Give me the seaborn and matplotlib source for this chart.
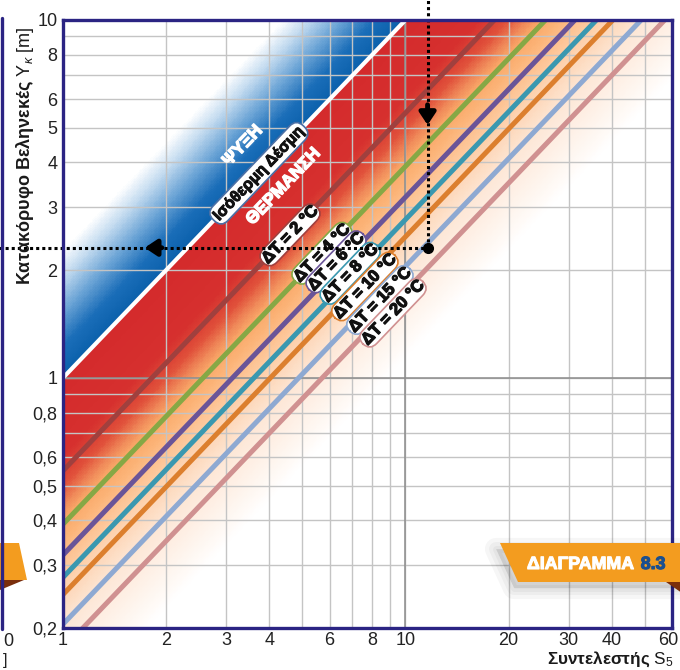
import numpy as np
import pandas as pd
import seaborn as sns
import matplotlib.pyplot as plt
import matplotlib.patheffects as pe
import matplotlib.transforms as mtransforms
from matplotlib.colors import LinearSegmentedColormap, Normalize
from matplotlib.patches import Polygon
from matplotlib.lines import Line2D
from matplotlib.ticker import NullFormatter

sns.set_style("white")
plt.rcParams['font.family'] = ['Liberation Sans', 'DejaVu Sans']
plt.rcParams['mathtext.fontset'] = 'custom'
plt.rcParams['mathtext.rm'] = 'Liberation Sans'
plt.rcParams['mathtext.it'] = 'Liberation Sans:italic'

# data: each ΔT line is Y = ratio * S (slope 1 in log-log)
dt_names = ["ΔT = 2 °C", "ΔT = 4 °C", "ΔT = 6 °C", "ΔT = 8 °C",
            "ΔT = 10 °C", "ΔT = 15 °C", "ΔT = 20 °C"]
dt_ratio = [0.55, 0.39, 0.32, 0.277, 0.248, 0.205, 0.175]
dt_colors = ["#a0403e", "#86a845", "#6a5498", "#3a98b0",
             "#dc7f2e", "#8ea9d2", "#d09191"]
iso_s = [1, 10]
iso_y = [1, 10]
s_ends = [1, 60]

x_ticks = [1, 2, 3, 4, 6, 8, 10, 20, 30, 40, 60]
x_minor = [5, 7, 9, 50]
y_ticks = [0.2, 0.3, 0.4, 0.5, 0.6, 0.8, 1, 2, 3, 4, 5, 6, 8, 10]
y_tick_labels = ["0,2", "0,3", "0,4", "0,5", "0,6", "0,8", "1",
                 "2", "3", "4", "5", "6", "8", "10"]
y_minor = [0.7, 0.9, 7, 9]

# worked example point
s_read = 11.6
y_read = 2.31

# where the ΔT name tags sit (S, Y)
dt_label_s = [4.60, 5.70, 6.27, 6.89, 7.61, 8.42, 9.19]
dt_label_y = [2.51, 2.23, 2.11, 1.96, 1.80, 1.65, 1.52]

W, H = 680, 670
fig = plt.figure(figsize=(6.8, 6.7), dpi=100)
ax = fig.add_axes([63 / W, 1 - 628 / H, (672 - 63) / W, (628 - 20) / H])
ax.set_xscale('log')
ax.set_yscale('log')
ax.set_xlim(1, 60)
ax.set_ylim(0.2, 10)


def px(x, y):
    return (x / W, 1 - y / H)


def heavy(col, w=0.9):
    return [pe.withStroke(linewidth=w, foreground=col)]


# background gradient, coloured by distance from the isothermal line
# (position = (log10(Y/S) + 1) / 1.6)
cmap = LinearSegmentedColormap.from_list("heat", [
    (0.0, "#ffffff"),
    (0.03, "#ffffff"),
    (0.19, "#fde6d5"),
    (0.25, "#fdd5b5"),
    (0.30, "#fdc495"),
    (0.3375, "#fcb57a"),
    (0.375, "#f9a868"),
    (0.40, "#f08a5a"),
    (0.4375, "#e0503a"),
    (0.49, "#d6302e"),
    (0.625, "#d42a2c"),
    (0.6251, "#0a5fab"),
    (0.68, "#1a6db8"),
    (0.74, "#6aa3d5"),
    (0.80, "#c2daef"),
    (0.85, "#ffffff"),
    (1.0, "#ffffff"),
])
gx = np.logspace(0, np.log10(60), 500)
gy = np.logspace(np.log10(0.2), 1, 500)
GX, GY = np.meshgrid(gx, gy)
ax.pcolormesh(GX, GY, np.log10(GY / GX), cmap=cmap, norm=Normalize(-1.0, 0.6),
              shading='auto', rasterized=True, zorder=0)

# grid
ax.set_axisbelow(True)
ax.set_xticks(x_ticks)
ax.set_xticklabels([str(v) for v in x_ticks])
ax.set_xticks(x_minor, minor=True)
ax.set_yticks(y_ticks)
ax.set_yticklabels(y_tick_labels)
ax.set_yticks(y_minor, minor=True)
ax.xaxis.set_minor_formatter(NullFormatter())
ax.yaxis.set_minor_formatter(NullFormatter())
ax.grid(which='both', color='#c4c4c4', linewidth=1.0)
ax.axhline(1, color='#8c8c8c', linewidth=1.1, zorder=0.6)
ax.axvline(10, color='#8c8c8c', linewidth=1.1, zorder=0.6)
ax.tick_params(which='both', length=0, labelsize=13, colors='#222222')
ax.tick_params(axis='x', pad=3)
ax.tick_params(axis='y', pad=4)
for sp in ax.spines.values():
    sp.set_color('#2b2483')
    sp.set_linewidth(2.4)
    sp.set_zorder(9)
# keep the last x label inside the picture
last = ax.get_xticklabels()[-1]
last.set_transform(last.get_transform() +
                   mtransforms.ScaledTranslation(-4 / 100, 0, fig.dpi_scale_trans))

# ΔT lines
rows = []
for name, r in zip(dt_names, dt_ratio):
    for s in s_ends:
        rows.append({"S": s, "Y": r * s, "curve": name})
lines = pd.DataFrame(rows)
sns.lineplot(data=lines, x="S", y="Y", hue="curve",
             palette=dict(zip(dt_names, dt_colors)), linewidth=3.6,
             legend=False, ax=ax, zorder=3)
sns.lineplot(x=iso_s, y=iso_y, color='white', linewidth=3.0, ax=ax, zorder=4)
ax.set_xlabel("")
ax.set_ylabel("")

# angle of the lines on screen
p0 = ax.transData.transform((1, 1))
p1 = ax.transData.transform((10, 10))
angle = np.degrees(np.arctan2(p1[1] - p0[1], p1[0] - p0[0]))

for i, (name, s, y, col) in enumerate(zip(dt_names, dt_label_s, dt_label_y, dt_colors)):
    ax.text(s, y, name, rotation=angle, rotation_mode='anchor',
            ha='center', va='center', fontsize=12, fontweight='bold',
            color='#111111', zorder=6 + 0.1 * i, path_effects=heavy('#111111'),
            bbox=dict(boxstyle='round,pad=0.12,rounding_size=0.6',
                      fc='white', ec=col, lw=1.2))

ax.text(3.73, 3.73, "Ισόθερμη Δέσμη", rotation=angle, rotation_mode='anchor',
        ha='center', va='center', fontsize=11.5, fontweight='bold',
        color='#111111', zorder=6, path_effects=heavy('#111111', 0.7),
        bbox=dict(boxstyle='round,pad=0.18,rounding_size=0.6',
                  fc='white', ec='#4a6fa5', lw=1.2))
ax.text(3.35, 4.45, "ΨΥΞΗ", rotation=angle, rotation_mode='anchor',
        ha='center', va='center', fontsize=12.5, fontweight='bold',
        color='white', zorder=6, path_effects=heavy('white', 1.0))
ax.text(4.4, 3.42, "ΘΕΡΜΑΝΣΗ", rotation=angle, rotation_mode='anchor',
        ha='center', va='center', fontsize=12.5, fontweight='bold',
        color='white', zorder=6, path_effects=heavy('white', 1.0))

# worked example: dotted guides, arrows and point
ax.plot([0.64, s_read], [y_read, y_read], color='black', lw=2.2,
        ls=(0, (1, 1)), clip_on=False, zorder=7)
ax.plot([s_read, s_read], [y_read, 11.6], color='black', lw=2.2,
        ls=(0, (1, 1)), clip_on=False, zorder=7)
ax.plot([s_read], [y_read], 'o', color='black', markersize=7, zorder=8)
ax.annotate('', xy=(1.7, y_read), xytext=(1.98, y_read), zorder=8,
            arrowprops=dict(arrowstyle='-|>,head_length=0.6,head_width=0.4',
                            color='black', lw=3.5, mutation_scale=12))
ax.annotate('', xy=(s_read, 5.0), xytext=(s_read, 5.9), zorder=8,
            arrowprops=dict(arrowstyle='-|>,head_length=0.6,head_width=0.4',
                            color='black', lw=3.5, mutation_scale=12))

# axis titles
fig.text(25 / W, 1 - 285 / H,
         r"Κατακόρυφο Βεληνεκές $\mathrm{Y}_{\kappa}\ \mathrm{[m]}$",
         rotation=90, ha='center', va='bottom', fontsize=13,
         fontweight='bold', color='#1a1a1a')
fig.text(547 / W, 1 - 664 / H, r"Συντελεστής $\mathrm{S}_{5}$",
         ha='left', va='baseline', fontsize=12.3, fontweight='bold',
         color='#1a1a1a')

# banner "ΔΙΑΓΡΑΜΜΑ 8.3"
banner = [(500, 543), (684, 543), (684, 582), (518, 582)]
for lw in [16, 10, 5]:
    shadow = [px(x - 4, y + 6) for x, y in banner]
    fig.add_artist(Polygon(shadow, closed=True, fc='black', ec='black',
                           lw=lw, alpha=0.035, joinstyle='round',
                           transform=fig.transFigure))
fig.add_artist(Polygon([px(666, 582), px(682, 582), px(682, 593)], closed=True,
                       fc='#7a2e0b', ec='none', transform=fig.transFigure))
fig.add_artist(Polygon([px(x, y) for x, y in banner], closed=True,
                       fc='#f39c1f', ec='none', transform=fig.transFigure))
t_banner = fig.text(527 / W, 1 - 569 / H, "ΔΙΑΓΡΑΜΜΑ", ha='left', va='baseline',
                    fontsize=12.8, fontweight='bold', color='white',
                    path_effects=heavy('white', 0.8))
renderer = fig.canvas.get_renderer()
bb = t_banner.get_window_extent(renderer)
fig.text((bb.x1 + 7) / W, 1 - 569 / H, "8.3", ha='left', va='baseline',
         fontsize=12.8, fontweight='bold', color='#1b4f8f',
         path_effects=heavy('#1b4f8f', 0.8))

# neighbouring panel fragments on the left edge
fig.add_artist(Line2D([1.5 / W, 1.5 / W], [1 - 18 / H, 1 - 629 / H],
                      color='#2b2483', lw=2.4, transform=fig.transFigure))
fig.add_artist(Polygon([px(0, 543), px(19, 543), px(27, 580), px(0, 580)],
                       closed=True, fc='#f39c1f', ec='none',
                       transform=fig.transFigure))
fig.add_artist(Polygon([px(0, 580), px(24, 580), px(0, 590)], closed=True,
                       fc='#7a2e0b', ec='none', transform=fig.transFigure))
fig.text(8 / W, 1 - 641 / H, "0", ha='center', va='center', fontsize=13,
         color='#222222')
fig.text(5 / W, 1 - 661 / H, "]", ha='center', va='center', fontsize=12,
         color='#222222')

fig.savefig("out.png", dpi=100)
